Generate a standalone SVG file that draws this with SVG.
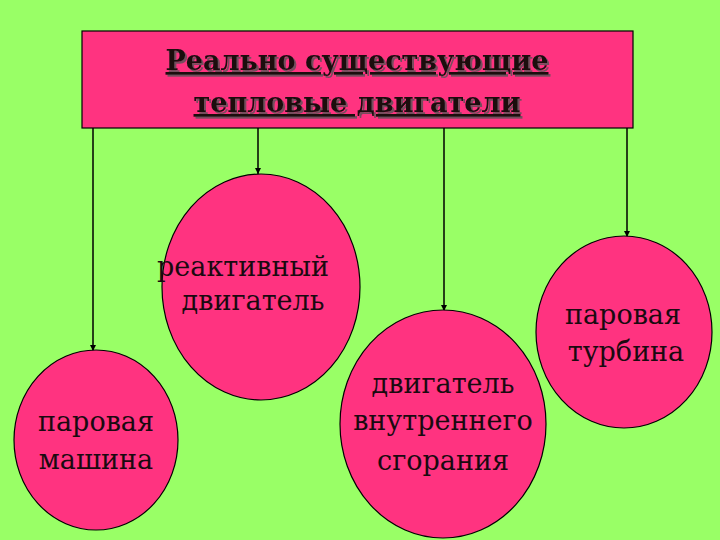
<svg xmlns="http://www.w3.org/2000/svg" width="720" height="540" viewBox="0 0 720 540">
<defs>
<style>
.node{fill:#FF3380;stroke:#000;stroke-width:1.2}
.t{font-family:'DejaVu Serif','Noto Serif','Liberation Serif','Times New Roman',serif;font-size:27px;fill:#1a0a10;text-anchor:middle}
.title{font-weight:bold;text-decoration:underline;font-size:27px;filter:url(#sh)}
.c{stroke:#000;stroke-width:1.5;fill:none;marker-end:url(#ah)}
</style>
<filter id="sh" x="-5%" y="-20%" width="110%" height="150%">
<feDropShadow dx="2" dy="2" stdDeviation="0.6" flood-color="#555" flood-opacity="0.8"/>
</filter>
<marker id="ah" viewBox="0 0 10 10" refX="10" refY="5" markerWidth="6" markerHeight="6" orient="auto" markerUnits="userSpaceOnUse">
<path d="M0,0 L10,5 L0,10 z" fill="#000"/>
</marker>
</defs>
<rect width="720" height="540" fill="#99FF66"/>
<g id="connectors">
<line class="c" x1="93" y1="128" x2="93" y2="351"/>
<line class="c" x1="258" y1="128" x2="258" y2="174"/>
<line class="c" x1="444" y1="128" x2="444" y2="311"/>
<line class="c" x1="627" y1="128" x2="627" y2="237"/>
</g>
<g id="title">
<rect class="node" x="82" y="31" width="551" height="97"/>
<text class="t title" x="357" y="70">Реально существующие</text>
<text class="t title" x="357" y="112">тепловые двигатели</text>
</g>
<g id="steam-engine">
<ellipse class="node" cx="96" cy="440" rx="82" ry="90"/>
<text class="t" x="96" y="431">паровая</text>
<text class="t" x="96" y="469">машина</text>
</g>
<g id="jet-engine">
<ellipse class="node" cx="261" cy="287" rx="99" ry="113"/>
<text class="t" x="243" y="276">реактивный</text>
<text class="t" x="253" y="310">двигатель</text>
</g>
<g id="ice">
<ellipse class="node" cx="443" cy="424" rx="103" ry="114"/>
<text class="t" x="443" y="393">двигатель</text>
<text class="t" x="443" y="430">внутреннего</text>
<text class="t" x="443" y="470">сгорания</text>
</g>
<g id="steam-turbine">
<ellipse class="node" cx="624" cy="332" rx="88" ry="96"/>
<text class="t" x="623" y="324">паровая</text>
<text class="t" x="626" y="361">турбина</text>
</g>
</svg>
